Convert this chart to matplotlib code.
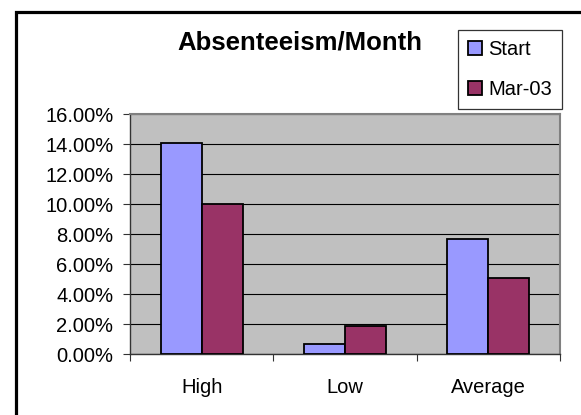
import matplotlib

matplotlib.use('Agg')

import matplotlib.pyplot as plt
import matplotlib.ticker as ticker
import numpy as np
from matplotlib.lines import Line2D

categories = ['High', 'Low', 'Average']
series_names = ['Start', 'Mar-03']
start_values = [14.1, 0.65, 7.7]
mar03_values = [10.0, 1.85, 5.05]
y_ticks = [0, 2, 4, 6, 8, 10, 12, 14, 16]

colors = ['#9999FF', '#993366']

plt.rcParams['font.family'] = ['Liberation Sans', 'DejaVu Sans']

fig = plt.figure(figsize=(5.81, 4.15), dpi=100)
ax = fig.add_axes([130 / 581, 1 - 354 / 415, 430 / 581, 240 / 415])

# outer chart frame: only left and top edges are inside the picture
fx = 15.5 / 581
fy = 1 - 12.5 / 415
fig.add_artist(Line2D([fx, fx, 1.01], [-0.01, fy, fy], transform=fig.transFigure,
                      color='black', lw=2.3, solid_joinstyle='miter'))

x = np.arange(len(categories))
width = 1 / 3.5
ax.bar(x - width / 2, start_values, width, color=colors[0], edgecolor='black',
       lw=1.3, label=series_names[0], zorder=3)
ax.bar(x + width / 2, mar03_values, width, color=colors[1], edgecolor='black',
       lw=1.3, label=series_names[1], zorder=3)

ax.set_facecolor('#C0C0C0')
ax.set_xlim(-0.5, len(categories) - 0.5)
ax.set_ylim(0, 16)
ax.set_yticks(y_ticks)
ax.yaxis.set_major_formatter(ticker.FuncFormatter(lambda v, p: f'{v:.2f}%'))
ax.grid(True, axis='y', color='black', lw=0.8, zorder=1)

ax.set_xticks(np.arange(len(categories) + 1) - 0.5)
ax.set_xticklabels([])
ax.set_xticks(x, minor=True)
ax.set_xticklabels(categories, minor=True)
ax.tick_params(axis='x', which='major', direction='out', length=5, width=0.8, color='#333333')
ax.tick_params(axis='x', which='minor', length=0, pad=17, labelsize=14.5)
ax.tick_params(axis='y', direction='out', length=5, width=0.8, pad=7, labelsize=14.5,
               color='#333333')

for side in ['top', 'right']:
    ax.spines[side].set_color('#808080')
    ax.spines[side].set_linewidth(1.5)
for side in ['left', 'bottom']:
    ax.spines[side].set_color('#333333')
    ax.spines[side].set_linewidth(1.0)

fig.text(300 / 581, 1 - 42 / 415, 'Absenteeism/Month', ha='center', va='center',
         fontsize=18.5, fontweight='bold')

leg = fig.legend(loc='upper right', bbox_to_anchor=(562 / 581, 1 - 30 / 415),
                 fontsize=14.5, frameon=True, fancybox=False, framealpha=1,
                 edgecolor='#333333', handlelength=0.7, handleheight=0.7,
                 handletextpad=0.3, labelspacing=1.05, borderpad=0.5,
                 borderaxespad=0)
leg.get_frame().set_linewidth(0.9)

fig.savefig('out.png', dpi=100)
